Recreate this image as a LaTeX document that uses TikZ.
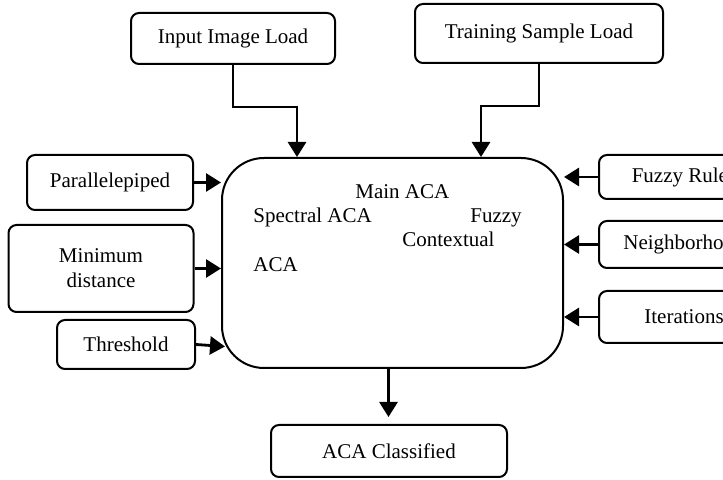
\documentclass[tikz,border=0pt]{standalone}
\usepackage{fontspec}
\setmainfont{Liberation Serif}
\usepackage{tikz}
\usetikzlibrary{arrows.meta, positioning, calc}
\definecolor{lineblack}{HTML}{000000}

\begin{document}
\begin{tikzpicture}[x=0.5pt, y=-0.5pt,
    font=\fontsize{10.5}{12.5}\selectfont,
    inbox/.style={draw=lineblack, line width=1pt, rounded corners=4pt, align=center, inner sep=2pt},
    flow/.style={lineblack, line width=1.4pt, -{Triangle[length=7.5pt, width=9pt]}},
    intext/.style={inner sep=0pt, anchor=base west}]
    \clip (0,0) rectangle (723,480);

    % Main ACA block
    \node[draw=lineblack, line width=1pt, rounded corners=21pt, minimum width=170.5pt, minimum height=105pt] (main) at (392.5,263) {};
    \node[intext] (mainaca) at (355,199) {Main ACA};
    \node[intext] (spectral) at (253,223) {Spectral ACA};
    \node[intext] (fuzzy) at (470,223) {Fuzzy};
    \node[intext] (contextual) at (402,247) {Contextual};
    \node[intext] (aca) at (253,272) {ACA};

    % Load boxes
    \node[inbox, minimum width=102pt, minimum height=25.5pt] (imageload) at (233,38.5) {Input Image Load};
    \node[inbox, minimum width=124pt, minimum height=29.5pt] (sampleload) at (539,33.5) {Training Sample Load};

    % Spectral inputs
    \node[inbox, minimum width=83pt, minimum height=27.5pt] (parallel) at (110,182.5) {Parallelepiped};
    \node[inbox, minimum width=92.5pt, minimum height=43.5pt] (mindist) at (101,268.5) {Minimum\\distance};
    \node[inbox, minimum width=69pt, minimum height=24.5pt] (threshold) at (126,344.5) {Threshold};

    % Fuzzy contextual inputs
    \node[inbox, minimum width=85pt, minimum height=22pt] (rules) at (684,177) {Fuzzy Rules};
    \node[inbox, minimum width=85pt, minimum height=23.5pt] (neighbor) at (684,244.5) {Neighborhood};
    \node[inbox, minimum width=85pt, minimum height=26pt] (iterations) at (684,317) {Iterations};

    % Output
    \node[inbox, minimum width=118pt, minimum height=26pt] (classified) at (389,451) {ACA Classified};

    % Connectors
    \draw[flow] (imageload.south) -- ++(0,42) -| ([xshift=-47.75pt]main.north);
    \draw[flow] (sampleload.south) -- ++(0,42) -| ([xshift=44.25pt]main.north);
    \draw[flow] (parallel.east) -- (main.west |- parallel.east);
    \draw[flow] (mindist.east) -- (main.west |- mindist.east);
    \draw[flow] (threshold.east) -- ([xshift=2pt,yshift=-1pt]main.west |- threshold.east);
    \draw[flow] (rules.west) -- (main.east |- rules.west);
    \draw[flow] (neighbor.west) -- (main.east |- neighbor.west);
    \draw[flow] (iterations.west) -- (main.east |- iterations.west);
    \draw[flow, shorten >=3.5pt] ([xshift=-2pt]main.south) -- ([xshift=-2pt]main.south |- classified.north);
\end{tikzpicture}
\end{document}
